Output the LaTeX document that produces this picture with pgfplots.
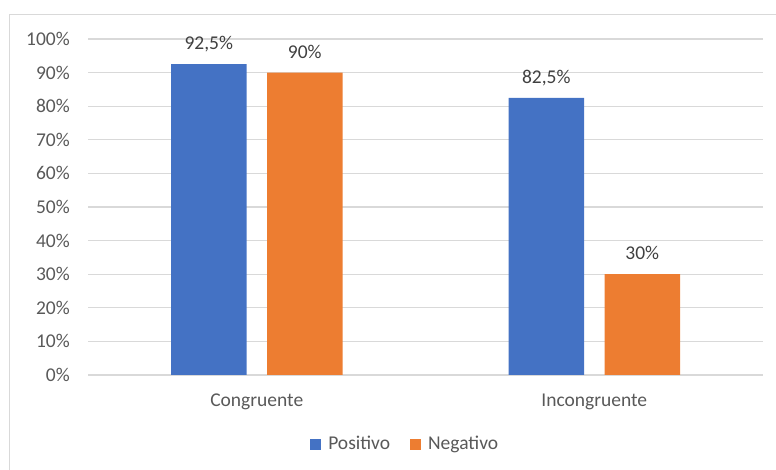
\documentclass[border=0pt]{standalone}
\usepackage{fontspec}
\setmainfont{Carlito}
\usepackage{pgfplots}
\pgfplotsset{compat=1.18}
\definecolor{cblue}{HTML}{4472C4}
\definecolor{corange}{HTML}{ED7D31}
\definecolor{gridc}{HTML}{D9D9D9}
\definecolor{tickc}{HTML}{595959}
\definecolor{labc}{HTML}{404040}
\begin{document}
\fontsize{19.5}{23}\selectfont
\begin{tikzpicture}[x=1pt,y=1pt]
\useasboundingbox (0,0) rectangle (776,470);
\draw[gridc, line width=1.2pt] (9.5,-5) -- (9.5,455.5) -- (790,455.5);
\begin{axis}[
  at={(88pt,95pt)}, anchor=south west,
  scale only axis, width=675pt, height=336pt,
  /pgf/number format/assume math mode=true,
  ymin=0, ymax=100, ytick={0,10,...,100},
  xmin=-0.5, xmax=1.5, xtick={0,1}, xticklabels={Congruente,Incongruente},
  enlargelimits=false,
  axis line style={draw=none},
  major tick length=0pt,
  ymajorgrids, grid style={gridc, line width=1.2pt},
  yticklabel={\pgfmathprintnumber{\tick}\%},
  yticklabel style={anchor=east, inner sep=0pt, xshift=-18pt, text=tickc},
  xticklabel style={anchor=base, inner sep=0pt, yshift=-32pt, text=tickc},
  ybar, bar width=75.5pt,
  nodes near coords={\pgfmathprintnumber[use comma,fixed,precision=1]{\pgfplotspointmeta}\%},
  every node near coord/.append style={anchor=base, yshift=14.5pt, inner sep=0pt, text=labc},
  legend columns=2,
  legend style={draw=none, at={(rel axis cs:0.4707,-0.2054)}, anchor=center,
    text=tickc, inner sep=0pt,
    /tikz/every odd column/.append style={column sep=4pt},
    /tikz/every even column/.append style={column sep=17pt},
    nodes={inner sep=3pt}},
  legend image code/.code={\fill[#1,draw=none] (0pt,-5.5pt) rectangle (11pt,5.5pt);},
]
\addplot[fill=cblue, draw=none, bar shift=-48pt] coordinates {(0,92.5) (1,82.5)};
\addlegendentry{Positivo}
\addplot[fill=corange, draw=none, bar shift=48pt] coordinates {(0,90) (1,30)};
\addlegendentry{Negativo}
\end{axis}
\end{tikzpicture}
\end{document}
